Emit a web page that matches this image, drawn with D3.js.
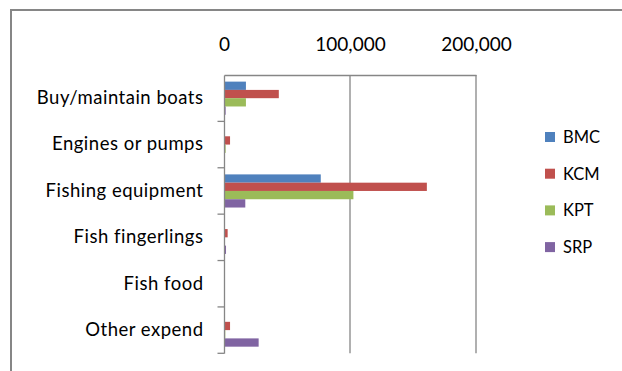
<!DOCTYPE html>
<html><head><meta charset="utf-8">
<script src="https://cdn.jsdelivr.net/npm/d3@7"></script>
<style>body{margin:0;background:#fff}svg{display:block}</style>
</head><body>
<svg id="c" width="622" height="371"></svg>
<script>
const categories = ["Buy/maintain boats","Engines or pumps","Fishing equipment","Fish fingerlings","Fish food","Other expend"];
const seriesNames = ["BMC","KCM","KPT","SRP"];
const BMC = [17400, 0, 76800, 0, 0, 0];
const KCM = [43500, 4800, 161000, 2900, 0, 4800];
const KPT = [17400, 1300, 102700, 0, 0, 1000];
const SRP = [1300, 0, 16900, 1600, 0, 27500];
const xTicks = [0, 100000, 200000];
const colors = ["#4F81BD","#C0504D","#9BBB59","#8064A2"];
const seriesValues = [BMC, KCM, KPT, SRP];

(function(){
const svg = d3.select("#c");
const font = "Lato, 'Open Sans', sans-serif";
const grey = "#868686";

// outer chart border (cropped)
svg.append("rect").attr("x",11).attr("y",10).attr("width",700).attr("height",400)
  .attr("fill","none").attr("stroke",grey).attr("stroke-width",2);

const pL = 224, pR = 476, pT = 75, pB = 353.3;
const x = d3.scaleLinear().domain([0,200000]).range([pL,pR]);
const y = d3.scaleBand().domain(categories).range([pT,pB]);
const inner = d3.scaleBand().domain(seriesNames).range([0,y.bandwidth()]).paddingInner(0).paddingOuter(0.8);

// gridlines
svg.append("g").selectAll("line").data(xTicks.filter(d=>d>0)).join("line")
  .attr("x1",d=>x(d)).attr("x2",d=>x(d)).attr("y1",pT).attr("y2",pB)
  .attr("stroke",grey).attr("stroke-width",1.3);

// bars
seriesNames.forEach((s,i)=>{
  svg.append("g").selectAll("rect").data(categories.map((c,j)=>({c,v:seriesValues[i][j]}))).join("rect")
    .attr("x",x(0)).attr("y",d=>y(d.c)+inner(s))
    .attr("width",d=>x(d.v)-x(0)).attr("height",inner.bandwidth())
    .attr("fill",colors[i]);
});

// top value axis
const xa = svg.append("g").attr("transform",`translate(0,${pT})`)
  .call(d3.axisTop(x).tickValues(xTicks).tickSize(0).tickPadding(24).tickFormat(d3.format(",")));
xa.select(".domain").attr("stroke",grey).attr("stroke-width",1.3);
xa.selectAll("text").attr("font-family",font).attr("font-size",19).attr("fill","#000");

// left category axis
const ya = svg.append("g").attr("transform",`translate(${pL},0)`)
  .call(d3.axisLeft(y).tickSize(0).tickPadding(20.5));
ya.select(".domain").attr("stroke",grey).attr("stroke-width",1.3);
ya.selectAll("text").attr("font-family",font).attr("font-size",18.5)
  .attr("letter-spacing","0.5px").attr("fill","#000");
// tick marks at band boundaries
const bounds = categories.map(c=>y(c)+y.bandwidth());
ya.append("g").selectAll("line").data(bounds).join("line")
  .attr("x1",-6.5).attr("x2",0).attr("y1",d=>d).attr("y2",d=>d)
  .attr("stroke",grey).attr("stroke-width",1.3);

// legend
const lg = svg.append("g");
seriesNames.forEach((s,i)=>{
  const cy = 137 + i*36.7;
  lg.append("rect").attr("x",545).attr("y",cy-5).attr("width",10).attr("height",10).attr("fill",colors[i]);
  lg.append("text").attr("x",563).attr("y",cy).attr("dy","0.36em")
    .attr("font-family",font).attr("font-size",16.5).attr("fill","#000").text(s);
});
})();
</script>
</body></html>
